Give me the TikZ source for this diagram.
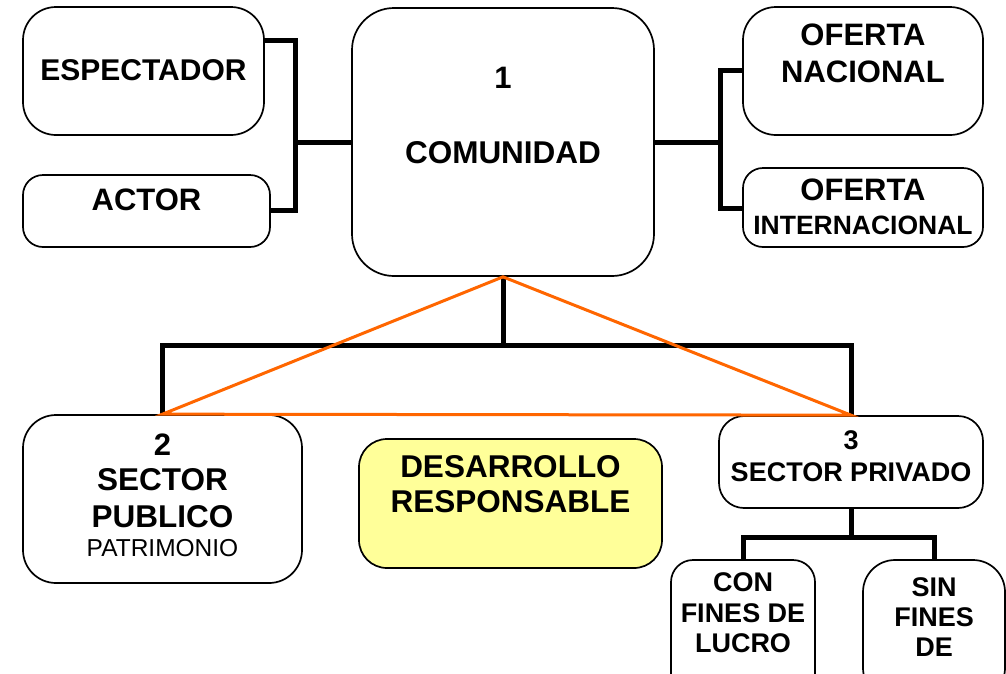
\documentclass[tikz,border=0pt]{standalone}
\usepackage{fontspec}
\setmainfont{Liberation Sans}
\usepackage{tikz}
\usetikzlibrary{calc}
\definecolor{triorange}{RGB}{255,102,0}
\definecolor{paleyellow}{RGB}{255,255,153}

\tikzset{
  box/.style={draw=black, line width=1.7pt, rounded corners=#1, fill=white, inner sep=0pt},
  link/.style={line width=5pt},
  tri/.style={draw=triorange, line width=3pt, line join=miter},
  lbl/.style={font=\bfseries\fontsize{#1}{#1}\selectfont, inner sep=0pt},
  plain/.style={font=\fontsize{#1}{#1}\selectfont, inner sep=0pt}
}

\begin{document}
\begin{tikzpicture}[x=1pt,y=-1pt]
    \useasboundingbox (0,0) rectangle (1006,673);
    \clip (0,0) rectangle (1006,673);

    % upper row
    \node[box=33pt, minimum width=241pt, minimum height=128pt] (espectador) at (143.5,71) {};
    \node[box=20pt, minimum width=247pt, minimum height=72pt] (actor) at (146.5,211) {};
    \node[box=42pt, minimum width=302pt, minimum height=268pt] (comunidad) at (503,142) {};
    \node[box=33pt, minimum width=240pt, minimum height=128pt] (nacional) at (863,71) {};
    \node[box=20pt, minimum width=240pt, minimum height=79pt] (internacional) at (863,207.5) {};

    \node[lbl=30] (tespectador) at (143.5,70) {ESPECTADOR};
    \node[lbl=31] (tactor) at (146.5,200) {ACTOR};
    \node[lbl=31] (tuno) at (503,78) {1};
    \node[lbl=31.5] (tcomunidad) at (503,153) {COMUNIDAD};
    \node[lbl=31] (tofertan) at (863,35) {OFERTA};
    \node[lbl=31] (tnacional) at (863,72) {NACIONAL};
    \node[lbl=31] (tofertai) at (863,190) {OFERTA};
    \node[lbl=26.5] (tinternacional) at (863,225) {INTERNACIONAL};

    % lower row
    \node[box=33pt, minimum width=279pt, minimum height=168pt] (publico) at (162.5,499) {};
    \node[box=28pt, minimum width=303pt, minimum height=129pt, fill=paleyellow] (desarrollo) at (510.5,503.5) {};
    \node[box=25pt, minimum width=264pt, minimum height=92pt] (privado) at (851,462) {};
    \node[box=22pt, minimum width=144pt, minimum height=140pt] (conlucro) at (743,630) {};
    \node[box=32pt, minimum width=142pt, minimum height=140pt] (sinlucro) at (934,630) {};

    \node[lbl=31] (tdos) at (162.5,445) {2};
    \node[lbl=31.5] (tsector) at (162.5,480) {SECTOR};
    \node[lbl=31.5] (tpublico) at (162.5,517) {PUBLICO};
    \node[plain=24.5] (tpatrimonio) at (162.5,548) {PATRIMONIO};
    \node[lbl=31.5] (tdesarrollo) at (510.5,467) {DESARROLLO};
    \node[lbl=31.5] (tresponsable) at (510.5,502) {RESPONSABLE};
    \node[lbl=27] (ttres) at (851,440) {3};
    \node[lbl=27] (tprivado) at (851,472) {SECTOR PRIVADO};
    \node[lbl=27] (tcon) at (743,582) {CON};
    \node[lbl=27] (tfinesa) at (743,613) {FINES DE};
    \node[lbl=27] (tlucro) at (743,643) {LUCRO};
    \node[lbl=27] (tsin) at (934,587) {SIN};
    \node[lbl=27] (tfinesb) at (934,617) {FINES};
    \node[lbl=27] (tde) at (934,647) {DE};

    % connectors
    \coordinate (jleft) at (295,142);
    \coordinate (jright) at (720,142);
    \coordinate (jtop) at (503,345);
    \coordinate (jpriv) at (851,537);
    \draw[link] ([yshift=31pt]espectador.east) -| (jleft) |- ([yshift=1pt]actor.east);
    \draw[link] (jleft) -- (comunidad.west);
    \draw[link] (comunidad.east) -- (jright);
    \draw[link] ([yshift=1pt]nacional.west) -| (jright) |- ([yshift=-0.5pt]internacional.west);
    \draw[link] (comunidad.south) -- (jtop);
    \draw[link] (publico.north) |- (jtop) -| (privado.north);
    \draw[link] (privado.south) -- (jpriv);
    \draw[link] (conlucro.north) |- (jpriv) -| (sinlucro.north);

    % triangle
    \draw[tri] (comunidad.south) -- (publico.north) -- (privado.north) -- cycle;
\end{tikzpicture}
\end{document}
